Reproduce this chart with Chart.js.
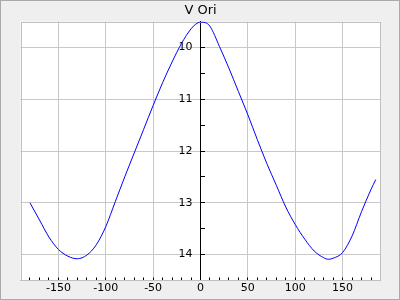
<!DOCTYPE html>
<html>
<head>
<meta charset="utf-8">
<script src="https://cdn.jsdelivr.net/npm/chart.js@4/dist/chart.umd.min.js"></script>
<style>
  html, body { margin: 0; padding: 0; background: #efefef; }
  #wrap { width: 400px; height: 300px; }
</style>
</head>
<body>
<div id="wrap"><canvas id="lightcurve" width="400" height="300"></canvas></div>
<script>
// phase (deg) and V magnitude
var phases = [-180, -170, -160, -150, -140, -130, -120, -110, -100, -90, -80, -70, -60, -50, -40, -30, -20, -10, -5, 0, 5, 10, 20, 30, 40, 50, 60, 70, 80, 90, 100, 110, 120, 130, 135, 140, 150, 160, 170, 180, 185];
var mags = [13.00, 13.33, 13.66, 13.90, 14.03, 14.08, 14.01, 13.81, 13.46, 12.98, 12.50, 12.04, 11.58, 11.12, 10.68, 10.28, 9.92, 9.64, 9.55, 9.51, 9.52, 9.59, 9.98, 10.40, 10.85, 11.30, 11.78, 12.24, 12.66, 13.08, 13.42, 13.70, 13.93, 14.06, 14.09, 14.07, 13.96, 13.64, 13.17, 12.74, 12.55];
var xLabels = [-150, -100, -50, 0, 50, 100, 150];
var yLabels = [10, 11, 12, 13, 14];
var title = 'V Ori';

var gridGray = '#c8c8c8';

var framePlugin = {
    id: 'frame',
    beforeDraw: function (chart) {
        var ctx = chart.ctx;
        var a = chart.chartArea;
        ctx.save();
        ctx.fillStyle = '#efefef';
        ctx.fillRect(0, 0, chart.width, chart.height);
        ctx.strokeStyle = '#aaaaaa';
        ctx.lineWidth = 1;
        ctx.strokeRect(0.5, 0.5, chart.width - 1, chart.height - 1);
        ctx.fillStyle = '#ffffff';
        ctx.fillRect(a.left, a.top, a.right - a.left, a.bottom - a.top);
        ctx.restore();
    },
    beforeDatasetsDraw: function (chart) {
        var ctx = chart.ctx;
        var a = chart.chartArea;
        ctx.save();
        ctx.strokeStyle = '#c0c0c0';
        ctx.lineWidth = 1;
        ctx.strokeRect(Math.round(a.left) + 0.5, Math.round(a.top) + 0.5,
            Math.round(a.right - a.left) - 1, Math.round(a.bottom - a.top) - 1);
        ctx.restore();
    }
};

var chart = new Chart(document.getElementById('lightcurve'), {
    type: 'line',
    data: {
        datasets: [{
            data: phases.map(function (p, i) { return {x: p, y: mags[i]}; }),
            borderColor: '#0000ff',
            borderWidth: 1,
            pointRadius: 0,
            fill: false,
            cubicInterpolationMode: 'monotone'
        }]
    },
    options: {
        responsive: false,
        animation: false,
        layout: {padding: {left: 20.5, right: 19.5, top: 0, bottom: 0}},
        plugins: {
            legend: {display: false},
            tooltip: {enabled: false},
            title: {
                display: true,
                text: title,
                color: '#000',
                font: {family: 'DejaVu Sans', size: 13, weight: 'normal'},
                padding: {top: 3, bottom: 3}
            }
        },
        scales: {
            x: {
                type: 'linear',
                position: 'bottom',
                min: -190,
                max: 190,
                afterFit: function (s) { s.height = 19.5; },
                ticks: {
                    stepSize: 10,
                    autoSkip: false,
                    maxRotation: 0,
                    padding: 4,
                    color: '#000',
                    font: {family: 'DejaVu Sans', size: 11},
                    callback: function (v) { return xLabels.indexOf(v) >= 0 ? String(v) : ''; }
                },
                grid: {
                    color: function (c) {
                        return xLabels.indexOf(c.tick.value) >= 0 ? gridGray : 'rgba(0,0,0,0)';
                    },
                    tickColor: function (c) {
                        return Math.abs(c.tick.value) >= 190 ? 'rgba(0,0,0,0)' : '#000';
                    },
                    tickLength: -3,
                    drawTicks: true
                },
                border: {color: '#c0c0c0'}
            },
            y: {
                type: 'linear',
                reverse: true,
                position: {x: 0},
                min: 9.5,
                max: 14.5,
                ticks: {
                    stepSize: 0.5,
                    autoSkip: false,
                    color: '#000',
                    font: {family: 'DejaVu Sans', size: 11},
                    // labels sit left of the axis line; trailing spaces give the gap
                    callback: function (v) { return yLabels.indexOf(v) >= 0 ? v + '  \u200A' : ''; }
                },
                grid: {
                    color: function (c) {
                        return yLabels.indexOf(c.tick.value) >= 0 ? gridGray : 'rgba(0,0,0,0)';
                    },
                    tickColor: function (c) {
                        return (c.tick.value <= 9.5 || c.tick.value >= 14.5) ? 'rgba(0,0,0,0)' : '#000';
                    },
                    tickLength: -5,
                    drawTicks: true
                },
                border: {color: '#000'}
            }
        }
    },
    plugins: [framePlugin]
});
</script>
</body>
</html>
